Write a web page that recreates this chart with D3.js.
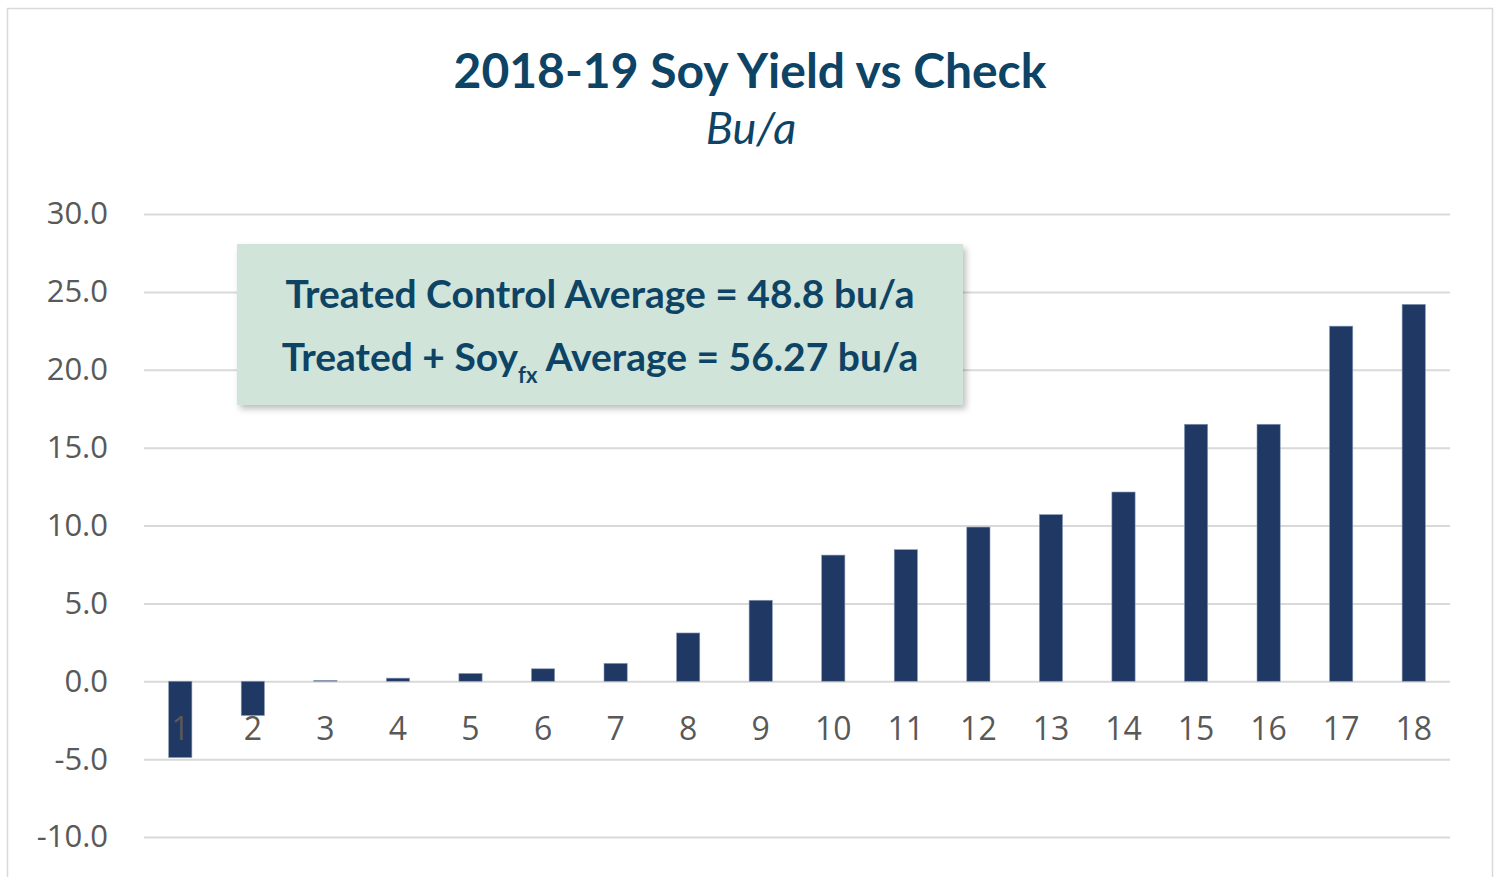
<!DOCTYPE html>
<html>
<head>
<meta charset="utf-8">
<script src="https://cdn.jsdelivr.net/npm/d3@7"></script>
<style>
  body { margin: 0; background: #fff; }
  svg { display: block; }
</style>
</head>
<body>
<svg id="chart"></svg>
<script>
const categories = ["1", "2", "3", "4", "5", "6", "7", "8", "9", "10", "11", "12", "13", "14", "15", "16", "17", "18"];
const yieldDiff = [-4.9, -2.2, 0.05, 0.2, 0.5, 0.8, 1.15, 3.1, 5.2, 8.1, 8.45, 9.9, 10.7, 12.15, 16.5, 16.5, 22.8, 24.2];
const yTicks = [-10, -5, 0, 5, 10, 15, 20, 25, 30];
const title = "2018-19 Soy Yield vs Check";
const subtitle = "Bu/a";
const noteLines = ["Treated Control Average = 48.8 bu/a", "Treated + Soy|fx| Average = 56.27 bu/a"];

const W = 1499, H = 877;
const margin = {top: 214, right: 49, bottom: 40, left: 144};
const width = W - margin.left - margin.right;
const height = 837 - margin.top;

const svg = d3.select("#chart").attr("width", W).attr("height", H);

const defs = svg.append("defs");
const shadow = defs.append("filter").attr("id", "shadow")
    .attr("x", "-5%").attr("y", "-10%").attr("width", "115%").attr("height", "130%");
shadow.append("feDropShadow").attr("dx", 3).attr("dy", 4).attr("stdDeviation", 3)
    .attr("flood-color", "#000").attr("flood-opacity", 0.25);

// chart border
svg.append("rect")
    .attr("x", 7.5).attr("y", 8.5).attr("width", W - 14).attr("height", H + 10)
    .attr("fill", "none").attr("stroke", "#d9d9d9").attr("stroke-width", 1.5);

svg.append("text")
    .attr("x", 750).attr("y", 88)
    .attr("text-anchor", "middle")
    .style("font-family", "Lato, sans-serif").style("font-weight", "bold")
    .style("font-size", "48px").style("fill", "#0d4466")
    .text(title);

svg.append("text")
    .attr("x", 751).attr("y", 144)
    .attr("text-anchor", "middle")
    .style("font-family", "Lato, sans-serif").style("font-style", "italic")
    .style("font-size", "45px").style("fill", "#0d4466")
    .text(subtitle);

const g = svg.append("g").attr("transform", `translate(${margin.left}, ${margin.top})`);

const x = d3.scaleBand().domain(categories).range([0, width]).paddingInner(0.68).paddingOuter(0.34);
const y = d3.scaleLinear().domain([-10, 30]).range([height, 0]);

// gridlines
g.append("g")
    .call(d3.axisLeft(y).tickValues(yTicks).tickSize(-width).tickFormat(""))
    .call(s => s.select(".domain").remove())
    .call(s => s.selectAll("line").attr("stroke", "#d9d9d9").attr("stroke-width", 2));

// y tick labels
g.append("g")
    .call(d3.axisLeft(y).tickValues(yTicks).tickSize(0).tickPadding(36)
        .tickFormat(d => d.toFixed(1)))
    .call(s => s.select(".domain").remove())
    .call(s => s.selectAll("text")
        .style("font-family", "'Open Sans', sans-serif").style("font-size", "31px").style("fill", "#595959"));

// bars
g.selectAll("rect.bar")
    .data(yieldDiff)
    .enter()
    .append("rect")
    .attr("class", "bar")
    .attr("x", (d, i) => x(categories[i]))
    .attr("width", x.bandwidth())
    .attr("y", d => y(Math.max(0, d)))
    .attr("height", d => Math.abs(y(d) - y(0)))
    .attr("fill", "#203864")
    .attr("stroke", "#8a9bb8").attr("stroke-width", 0.6);

// category labels
g.append("g")
    .attr("transform", `translate(0, ${y(0)})`)
    .call(d3.axisBottom(x).tickSize(0).tickPadding(36))
    .call(s => s.select(".domain").remove())
    .call(s => s.selectAll("text")
        .style("font-family", "'Open Sans', sans-serif").style("font-size", "32px").style("fill", "#595959"));

// annotation box
const note = svg.append("g");
note.append("rect")
    .attr("x", 237).attr("y", 244).attr("width", 726).attr("height", 161)
    .attr("fill", "#d0e4d9").attr("filter", "url(#shadow)");

noteLines.forEach(function (line, i) {
    const t = note.append("text")
        .attr("x", 600).attr("y", 308 + i * 63)
        .attr("text-anchor", "middle")
        .style("font-family", "Lato, sans-serif").style("font-weight", "bold")
        .style("font-size", "39px").style("fill", "#0d4466");
    line.split("|").forEach(function (part, j) {
        const ts = t.append("tspan").text(part);
        if (j === 1) ts.attr("dy", 12).style("font-size", "22px");
        if (j === 2) ts.attr("dy", -12);
    });
});
</script>
</body>
</html>
